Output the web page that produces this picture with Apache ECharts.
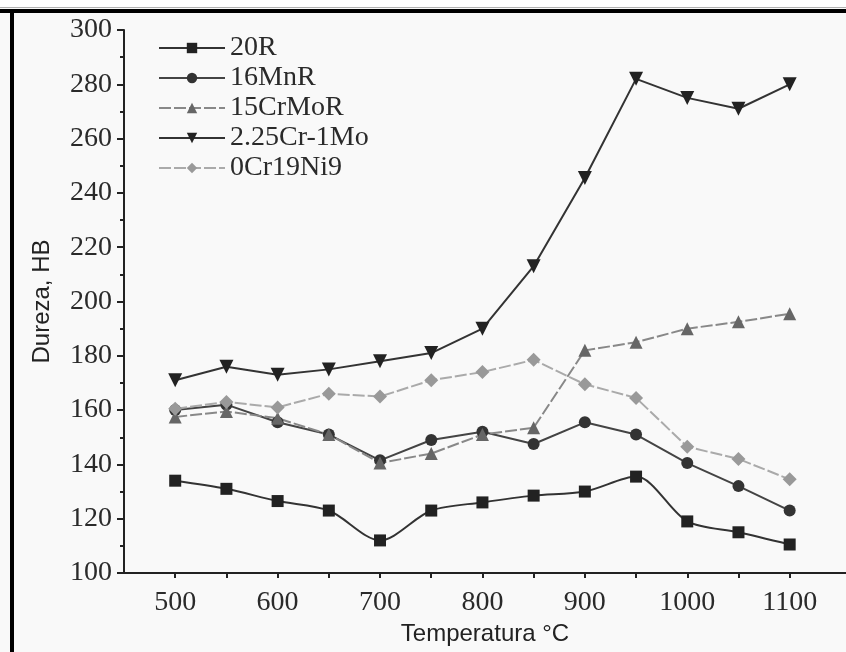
<!DOCTYPE html>
<html>
<head>
<meta charset="utf-8">
<script src="https://cdn.jsdelivr.net/npm/echarts@6/dist/echarts.min.js"></script>
<style>
  html, body { margin: 0; padding: 0; background: #fff; }
  #chart { width: 846px; height: 652px; }
</style>
</head>
<body>
<div id="chart"></div>
<script>
// temperatures, °C
const temps = [500, 550, 600, 650, 700, 750, 800, 850, 900, 950, 1000, 1050, 1100]
const tempLabels = [500, 600, 700, 800, 900, 1000, 1100]

// hardness HB
const r20 = [134, 131, 126.5, 123, 112, 123, 126, 128.5, 130, 135.5, 119, 115, 110.5]
const mn16 = [160, 162, 155.5, 151, 141.5, 149, 152, 147.5, 155.5, 151, 140.5, 132, 123]
const crmo15 = [157.5, 159.5, 157, 151, 140.5, 144, 151, 153.5, 182, 185, 190, 192.5, 195.5]
const cr225 = [171, 176, 173, 175, 178, 181, 190, 213, 245.5, 282, 275, 271, 280]
const ni9 = [160.5, 163, 161, 166, 165, 171, 174, 178.5, 169.5, 164.5, 146.5, 142, 134.5]

const serif = 'Liberation Serif'
const sans = 'Liberation Sans'
const downTriangle = 'path://M0,0 L10,0 L5,9 Z'

function pairs(vals) {
  return temps.map((t, i) => [t, vals[i]])
}

function line(name, vals, opt) {
  return {
    name: name,
    type: 'line',
    data: pairs(vals),
    symbol: opt.symbol,
    symbolSize: opt.size,
    smooth: opt.smooth || false,
    lineStyle: { color: opt.line, width: 2, type: opt.dash || 'solid' },
    itemStyle: { color: opt.fill },
    animation: false
  }
}

const chart = echarts.init(document.getElementById('chart'))
chart.setOption({
  backgroundColor: '#f9f9f9',
  graphic: [
    { type: 'rect', shape: { x: 0, y: 0, width: 846, height: 7 }, style: { fill: '#fff' } },
    { type: 'rect', shape: { x: 0, y: 7, width: 846, height: 1 }, style: { fill: '#b0b0b0' } },
    { type: 'rect', shape: { x: 0, y: 9, width: 846, height: 4 }, style: { fill: '#000' } },
    { type: 'rect', shape: { x: 10, y: 9, width: 4, height: 643 }, style: { fill: '#000' } }
  ],
  legend: {
    orient: 'vertical',
    left: 153,
    top: 28,
    itemWidth: 66,
    itemHeight: 13,
    itemGap: 0,
    textStyle: { fontFamily: serif, fontSize: 28, color: '#2a2a2a', lineHeight: 30 },
    data: ['20R', '16MnR', '15CrMoR', '2.25Cr-1Mo', '0Cr19Ni9']
  },
  grid: {
    left: 124,
    right: 0,
    top: 30,
    bottom: 79
  },
  xAxis: {
    type: 'value',
    min: 450,
    max: 1155,
    name: 'Temperatura °C',
    nameLocation: 'middle',
    nameGap: 49,
    nameTextStyle: { fontFamily: sans, fontSize: 24, color: '#222' },
    axisLine: { show: true, lineStyle: { color: '#222', width: 2 } },
    axisTick: { show: true, length: 5, lineStyle: { color: '#222', width: 2 }, customValues: temps },
    axisLabel: {
      fontFamily: serif, fontSize: 28, color: '#2a2a2a', margin: 16,
      customValues: tempLabels,
      formatter: v => String(v)
    },
    splitLine: { show: false }
  },
  yAxis: {
    type: 'value',
    min: 100,
    max: 300,
    interval: 20,
    name: 'Dureza, HB',
    nameLocation: 'middle',
    nameGap: 70,
    nameTextStyle: { fontFamily: sans, fontSize: 24, color: '#222' },
    axisLine: { show: true, lineStyle: { color: '#222', width: 2 } },
    axisTick: { show: true, length: 7, lineStyle: { color: '#222', width: 2 } },
    minorTick: { show: true, splitNumber: 2, length: 4, lineStyle: { color: '#222', width: 2 } },
    axisLabel: { fontFamily: serif, fontSize: 28, color: '#2a2a2a', margin: 12 },
    splitLine: { show: false }
  },
  series: [
    line('20R', r20, { symbol: 'rect', size: 12, line: '#333', fill: '#222', smooth: 0.3 }),
    line('16MnR', mn16, { symbol: 'circle', size: 12, line: '#444', fill: '#333' }),
    line('15CrMoR', crmo15, { symbol: 'triangle', size: 13, line: '#888', fill: '#666', dash: [12, 3] }),
    line('2.25Cr-1Mo', cr225, { symbol: downTriangle, size: 14, line: '#333', fill: '#222' }),
    line('0Cr19Ni9', ni9, { symbol: 'diamond', size: 14, line: '#aaa', fill: '#999', dash: [12, 3] })
  ]
})
</script>
</body>
</html>
